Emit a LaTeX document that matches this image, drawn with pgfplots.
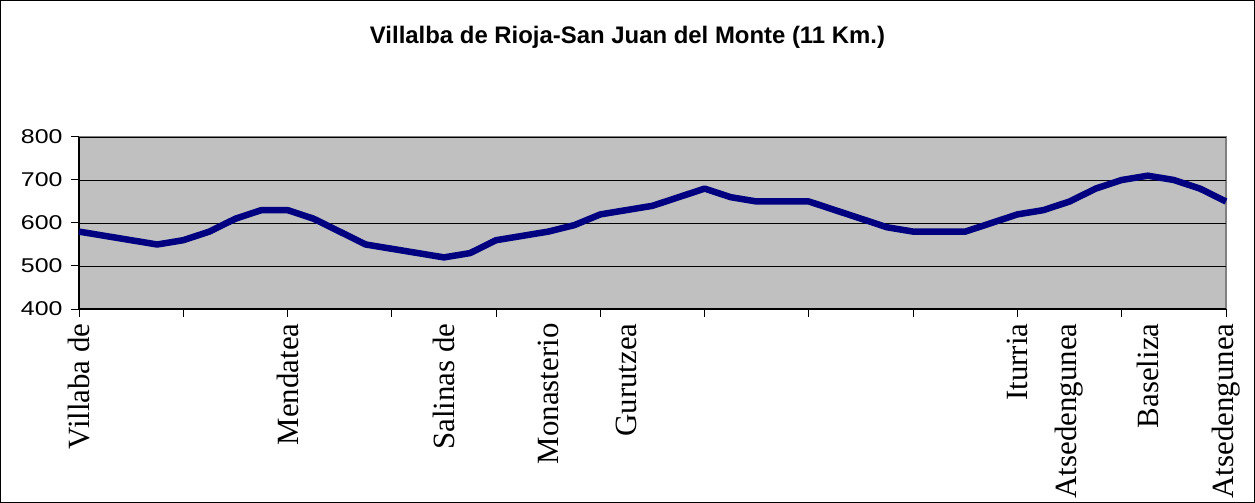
\documentclass[border=0pt]{standalone}
\usepackage{pgfplots}
\pgfplotsset{compat=1.18}
\usepackage{fontspec}
\setmainfont{Liberation Serif}
\newfontfamily\arialfont{Liberation Sans}
\newfontfamily\ystretch[FakeStretch=1.25]{Liberation Sans}
\definecolor{plotgray}{HTML}{C0C0C0}
\definecolor{bordergray}{HTML}{808080}
\definecolor{navyline}{HTML}{000080}
\begin{document}
\begin{tikzpicture}
\path[use as bounding box] (0,0) rectangle (1255bp,503bp);
\draw[black, line width=1bp] (0.5bp,0.5bp) rectangle (1254.5bp,502.5bp);
\node[font={\arialfont\bfseries\fontsize{24}{28}\selectfont}] at (627.5bp,466bp) {Villalba de Rioja-San Juan del Monte (11 Km.)};
\begin{axis}[
  at={(79bp,194bp)}, anchor=south west,
  scale only axis, width=1147bp, height=172bp,
  xmin=0, xmax=11, ymin=400, ymax=800,
  axis lines=left, axis line style={-, black, line width=1.3bp},
  axis background/.style={fill=plotgray, draw=bordergray, line width=2.5bp},
  ytick={400,500,600,700,800},
  ymajorgrids, major grid style={black, line width=0.9bp},
  xtick={0,1,...,11}, xticklabels={},
  tick align=outside, major tick length=8bp,
  tick style={black, line width=1bp},
  yticklabel style={font={\ystretch\fontsize{20}{22}\selectfont}, xshift=-5bp},
  /pgf/number format/assume math mode=true,
  extra x ticks={0,2,3.5,4.5,5.25,9,9.5,10.25,11},
  extra x tick labels={Villaba de,Mendatea,Salinas de,Monasterio,Gurutzea,Iturria,Atsedengunea,Baseliza,Atsedengunea},
  extra x tick style={major tick length=0pt, xticklabel style={rotate=90, anchor=east, xshift=-11bp, font=\fontsize{31}{34}\selectfont}},
  clip=false,
]
\addplot[navyline, line width=6.5bp, line join=round] coordinates {
(0,580) (0.25,570) (0.5,560) (0.75,550) (1,560) (1.25,580) (1.5,610) (1.75,630)
(2,630) (2.25,610) (2.5,580) (2.75,550) (3,540) (3.25,530) (3.5,520) (3.75,530)
(4,560) (4.25,570) (4.5,580) (4.75,595) (5,620) (5.25,630) (5.5,640) (5.75,660)
(6,680) (6.25,660) (6.5,650) (6.75,650) (7,650) (7.25,630) (7.5,610) (7.75,590)
(8,580) (8.25,580) (8.5,580) (8.75,600) (9,620) (9.25,630) (9.5,650) (9.75,680)
(10,700) (10.25,710) (10.5,700) (10.75,680) (11,650)
};
\end{axis}
\end{tikzpicture}
\end{document}
